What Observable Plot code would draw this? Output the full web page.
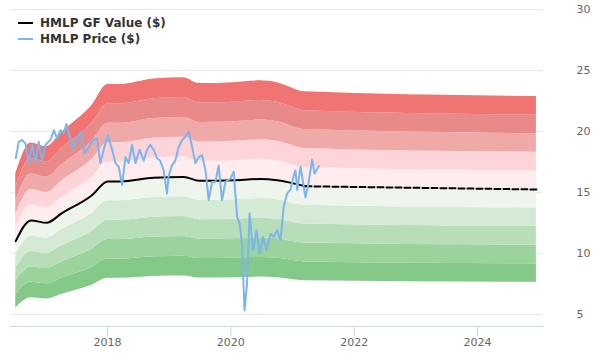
<!DOCTYPE html>
<html><head><meta charset="utf-8">
<script src="https://cdn.jsdelivr.net/npm/d3@7"></script>
<script src="https://cdn.jsdelivr.net/npm/@observablehq/plot@0.6"></script>
<style>
body{margin:0;background:#fff;font-family:"DejaVu Sans",sans-serif;}
#wrap{position:relative;width:600px;height:360px;}
#legend{position:absolute;left:18px;top:15px;font-weight:bold;font-size:12px;color:#333;}
.row{display:flex;align-items:center;height:16px;white-space:nowrap;}
.sw{width:15px;height:2px;margin-right:7px;}
</style></head><body>
<div id="wrap"><div id="chart"></div><div id="legend"></div></div>
<script>
// ---- data ----
const seriesNames = ["HMLP GF Value ($)", "HMLP Price ($)"];
const seriesColors = ["#000000", "#7cb5ec"];

const gfActualDates = ["2016-07-06","2016-10-05","2017-01-04","2017-04-06","2017-10-01","2018-01-02","2018-03-18","2018-10-01","2019-03-28","2019-06-28","2020-01-18","2020-06-25","2020-10-01","2021-03-18"];
const gfActualValues = [11.0,12.7,12.5,13.3,14.77,15.9,15.9,16.2,16.27,15.95,16.0,16.1,16.0,15.5];
const gfProjectedDates = ["2021-03-18","2024-12-15"];
const gfProjectedValues = [15.5,15.24];

const priceDates = ["2016-07-06","2016-07-24","2016-08-13","2016-09-02","2016-09-21","2016-10-11","2016-10-31","2016-11-19","2016-12-09","2016-12-29",
"2017-01-28","2017-02-17","2017-03-08","2017-03-28","2017-04-16","2017-05-02","2017-05-16","2017-06-11","2017-07-04","2017-07-24",
"2017-08-17","2017-09-11","2017-10-07","2017-10-31","2017-11-19","2017-12-09","2018-01-02","2018-01-28","2018-02-17","2018-03-08",
"2018-03-28","2018-04-17","2018-05-06","2018-05-26","2018-06-15","2018-07-10","2018-08-03","2018-08-23","2018-09-11","2018-10-01",
"2018-10-21","2018-11-09","2018-11-29","2018-12-19","2018-12-28","2019-01-17","2019-02-06","2019-02-26","2019-03-18","2019-04-07",
"2019-04-27","2019-05-17","2019-06-05","2019-06-25","2019-07-15","2019-08-04","2019-08-23","2019-09-12","2019-10-02","2019-10-21",
"2019-11-10","2019-11-30","2019-12-29","2020-01-18","2020-02-07","2020-02-22","2020-03-07","2020-03-22","2020-04-06","2020-04-21",
"2020-05-12","2020-06-01","2020-06-20","2020-07-10","2020-07-30","2020-08-23","2020-09-11","2020-10-01","2020-10-21","2020-11-09",
"2020-11-29","2020-12-19","2021-01-08","2021-01-18","2021-01-28","2021-02-17","2021-03-18","2021-04-01","2021-04-27","2021-05-11","2021-06-05"];
const priceValues = [17.8,19.15,19.3,19.0,17.4,18.9,17.5,19.15,17.6,18.9,
19.3,20.1,19.4,20.1,19.85,20.6,19.85,18.6,19.4,19.97,
18.2,18.7,19.3,19.4,17.4,18.5,19.7,18.5,17.4,17.1,
15.6,17.9,17.4,18.9,17.4,18.5,17.6,18.5,18.9,18.5,
17.8,17.6,16.8,14.9,16.3,17.2,17.6,18.7,19.3,19.55,
19.97,18.7,17.4,17.9,18.05,16.8,14.36,15.86,15.86,17.2,
14.36,15.86,16.1,16.7,13.0,12.45,10.8,5.33,7.5,13.27,
10.25,11.9,10.0,11.35,10.25,11.6,11.35,11.9,11.1,13.8,
14.9,15.2,16.4,16.8,15.2,17.1,14.6,15.45,17.7,16.55,17.15];

// band edges as multiples of GF Value (bottom to top) and their fills
const bandMultipliers = [0.5,0.6,0.7,0.8,0.9,1.0,1.1,1.2,1.3,1.4,1.5];
const bandColors = ["#85c988","#9ad39c","#b7deb8","#d4ead4","#edf5ec","#feecee","#fdd5d9","#f0a9a9","#e88a89","#f07472"];

const xTickYears = ["2018-01-01","2020-01-01","2022-01-01","2024-01-01"];
const yTicks = [5,10,15,20,25,30];
const xDomain = ["2016-06-05","2025-01-26"];
const yDomain = [4,30];

// ---- build ----
const parse = d3.utcParse("%Y-%m-%d");
const gfActual = gfActualDates.map((d,i)=>({date:parse(d), value:gfActualValues[i]}));
const gfProjected = gfProjectedDates.map((d,i)=>({date:parse(d), value:gfProjectedValues[i]}));
const gfAll = gfActual.concat(gfProjected.slice(1));
const price = priceDates.map((d,i)=>({date:parse(d), value:priceValues[i]}));

const bandMarks = bandColors.map((c,i)=>Plot.areaY(gfAll, {
  x:"date", y1:d=>d.value*bandMultipliers[i], y2:d=>d.value*bandMultipliers[i+1],
  fill:c, curve:"monotone-x"
}));

const chart = Plot.plot({
  width:600, height:360,
  marginLeft:10, marginRight:57, marginTop:9, marginBottom:34,
  style:{fontFamily:"DejaVu Sans", fontSize:"11px", background:"white"},
  x:{type:"utc", domain:xDomain.map(parse)},
  y:{domain:yDomain},
  marks:[
    Plot.gridY(yTicks, {stroke:"#e6e6e6", strokeOpacity:1}),
    ...bandMarks,
    Plot.lineY(gfActual, {x:"date", y:"value", stroke:seriesColors[0], strokeWidth:2, curve:"monotone-x"}),
    Plot.lineY(gfProjected, {x:"date", y:"value", stroke:seriesColors[0], strokeWidth:2, strokeDasharray:"6,3"}),
    Plot.lineY(price, {x:"date", y:"value", stroke:seriesColors[1], strokeWidth:2}),
    Plot.ruleY([yDomain[0]], {stroke:"#ccd6eb"}),
    Plot.axisX({ticks:xTickYears.map(parse), tickFormat:d3.utcFormat("%Y"), tickSize:10, tickPadding:2, stroke:"#ccd6eb", fill:"#666", label:null}),
    Plot.axisY({anchor:"right", ticks:yTicks, tickSize:0, tickPadding:33, textAnchor:"start", fill:"#666", label:null})
  ]
});
document.getElementById("chart").appendChild(chart);

const legend = document.getElementById("legend");
seriesNames.forEach((n,i)=>{
  const row = document.createElement("div"); row.className="row";
  const sw = document.createElement("span"); sw.className="sw"; sw.style.background=seriesColors[i];
  const t = document.createElement("span"); t.textContent=n;
  row.appendChild(sw); row.appendChild(t); legend.appendChild(row);
});
</script>
</body></html>
